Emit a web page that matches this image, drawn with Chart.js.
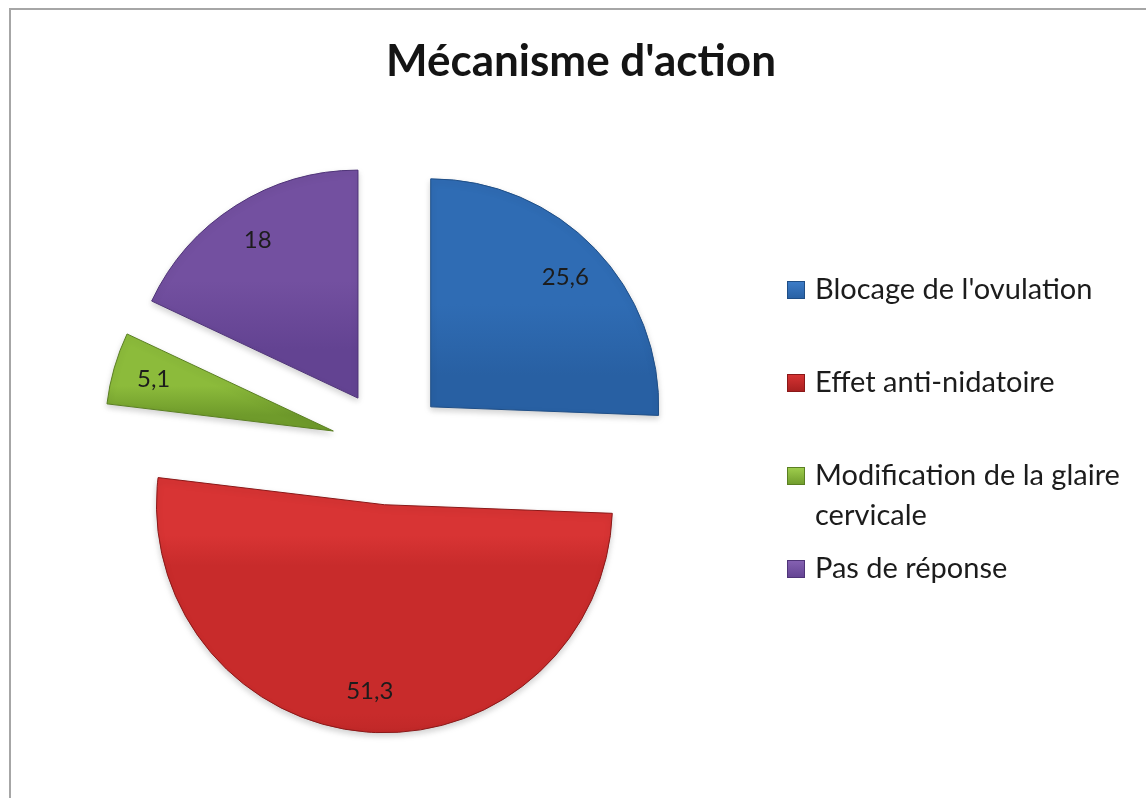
<!DOCTYPE html>
<html>
<head>
<meta charset="utf-8">
<script src="https://cdn.jsdelivr.net/npm/chart.js@4.4.1/dist/chart.umd.min.js"></script>
<style>
  html, body { margin: 0; padding: 0; background: #ffffff; }
  #wrap { position: relative; width: 1146px; height: 798px; overflow: hidden; }
  #frame { position: absolute; left: 9px; top: 8px; width: 1200px; height: 900px; border: 2px solid #a6a6a6; box-sizing: border-box; }
  canvas { position: absolute; left: 0; top: 0; }
</style>
</head>
<body>
<div id="wrap">
  <div id="frame"></div>
  <canvas id="c" width="1146" height="798"></canvas>
</div>
<script>
// ---- data ----
const chartTitle = "Mécanisme d'action";
const categories = ["Blocage de l'ovulation", "Effet anti-nidatoire", "Modification de la glaire cervicale", "Pas de réponse"];
const values = [25.6, 51.3, 5.1, 18];

// ---- styles ----
const baseColors = ['#2f6cb4', '#c82b2b', '#8cbb3b', '#7350a0'];
const lightColors = ['#3d7dc9', '#d83434', '#a0cf4e', '#8662b3'];
const darkColors = ['#2860a3', '#a61f1f', '#6f9b2b', '#634392'];
const edgeColors = ['#1f4e86', '#8a1818', '#5a7f22', '#4f3478'];

const FONT = 'Lato, "Open Sans", "DejaVu Sans", sans-serif';
const EXPLODE = 0.254;   // fraction of radius
const LABEL_POS = 0.82;  // fraction of radius from the slice apex

function fmt(v) { return String(v).replace('.', ','); }

function apexOf(arc) {
  const mid = (arc.startAngle + arc.endAngle) / 2;
  const d = arc.outerRadius * EXPLODE;
  return { x: arc.x + Math.cos(mid) * d, y: arc.y + Math.sin(mid) * d, mid };
}

const explodePlugin = {
  id: 'explode',
  beforeDatasetsDraw(chart) {
    const ctx = chart.ctx;
    chart.getDatasetMeta(0).data.forEach((arc, i) => {
      const a = apexOf(arc);
      let minY = a.y, maxY = a.y;
      for (let k = 0; k <= 40; k++) {
        const t = arc.startAngle + (arc.endAngle - arc.startAngle) * k / 40;
        const y = a.y + Math.sin(t) * arc.outerRadius;
        minY = Math.min(minY, y); maxY = Math.max(maxY, y);
      }
      const g = ctx.createLinearGradient(0, minY, 0, maxY);
      g.addColorStop(0, lightColors[i]);
      g.addColorStop(0.12, baseColors[i]);
      g.addColorStop(0.7, baseColors[i]);
      g.addColorStop(1, darkColors[i]);
      arc.options.backgroundColor = g;
      if (!arc.__wrapped) {
        const orig = arc.draw.bind(arc);
        arc.draw = function (c) {
          const mid = (this.startAngle + this.endAngle) / 2;
          const d = this.outerRadius * EXPLODE;
          c.save();
          c.shadowColor = 'rgba(0,0,0,0.18)';
          c.shadowBlur = 6;
          c.shadowOffsetY = 3;
          c.translate(Math.cos(mid) * d, Math.sin(mid) * d);
          orig(c);
          c.restore();
        };
        arc.__wrapped = true;
      }
    });
  }
};

const decorPlugin = {
  id: 'decor',
  afterDraw(chart) {
    const ctx = chart.ctx;
    ctx.save();
    // title
    ctx.fillStyle = '#141414';
    ctx.font = 'bold 44px ' + FONT;
    ctx.textAlign = 'center';
    ctx.textBaseline = 'alphabetic';
    ctx.fillText(chartTitle, 581, 76);

    // data labels
    ctx.font = '24px ' + FONT;
    ctx.fillStyle = '#1c1c1c';
    ctx.textBaseline = 'middle';
    chart.getDatasetMeta(0).data.forEach((arc, i) => {
      const a = apexOf(arc);
      const r = arc.outerRadius * LABEL_POS;
      ctx.fillText(fmt(values[i]), a.x + Math.cos(a.mid) * r, a.y + Math.sin(a.mid) * r);
    });

    // legend
    const lx = 787, tx = 815, y0 = 299, step = 93, lineH = 40, maxW = 326, box = 18;
    ctx.textAlign = 'left';
    ctx.textBaseline = 'alphabetic';
    ctx.font = '29px ' + FONT;
    categories.forEach((name, i) => {
      const by = y0 + i * step;
      const g = ctx.createLinearGradient(0, by - 18, 0, by);
      g.addColorStop(0, lightColors[i]);
      g.addColorStop(1, darkColors[i]);
      ctx.fillStyle = g;
      ctx.fillRect(lx, by - 18, box, box);
      ctx.strokeStyle = edgeColors[i];
      ctx.lineWidth = 1;
      ctx.strokeRect(lx + 0.5, by - 17.5, box - 1, box - 1);
      const words = name.split(' ');
      const lines = [];
      let cur = '';
      words.forEach(w => {
        const test = cur ? cur + ' ' + w : w;
        if (ctx.measureText(test).width > maxW && cur) { lines.push(cur); cur = w; }
        else cur = test;
      });
      lines.push(cur);
      ctx.fillStyle = '#1c1c1c';
      lines.forEach((ln, k) => ctx.fillText(ln, tx, by + k * lineH));
    });
    ctx.restore();
  }
};

new Chart(document.getElementById('c'), {
  type: 'pie',
  data: {
    labels: categories,
    datasets: [{
      data: values,
      backgroundColor: baseColors,
      borderColor: edgeColors,
      borderWidth: 1
    }]
  },
  options: {
    responsive: false,
    animation: false,
    events: [],
    radius: 228,
    rotation: 0,
    layout: { padding: { left: 0, right: 368, top: 96, bottom: 0 } },
    plugins: {
      legend: { display: false },
      title: { display: false },
      tooltip: { enabled: false }
    }
  },
  plugins: [explodePlugin, decorPlugin]
});
</script>
</body>
</html>
